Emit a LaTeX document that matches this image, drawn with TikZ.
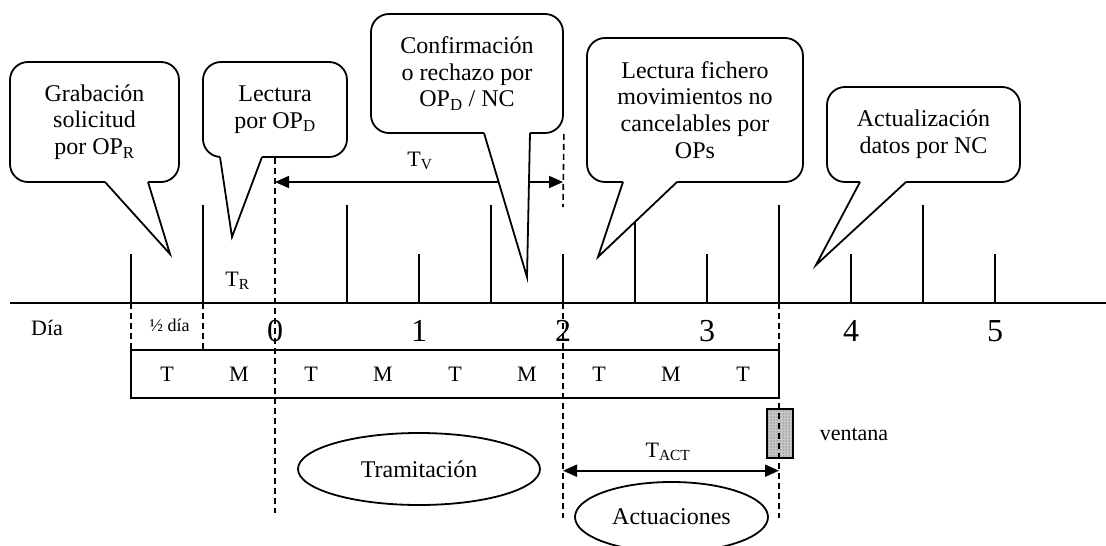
\documentclass[tikz,border=0pt]{standalone}
\usepackage{fontspec}
\setmainfont{Liberation Serif}
\usetikzlibrary{arrows.meta,patterns,shapes.geometric}
\begin{document}
\begin{tikzpicture}[x=1pt,y=-1pt,
  axisline/.style={line width=2pt},
  tickline/.style={line width=1.6pt},
  guide/.style={line width=1.6pt, dash pattern=on 6pt off 4pt},
  bubble/.style={draw, line width=1.8pt, fill=white, rounded corners=18pt, align=center, inner sep=0pt,
                 font=\fontsize{24}{26.7}\selectfont},
  ptr/.style={line width=1.8pt, line join=miter},
  dimline/.style={line width=1.8pt, {Triangle[length=14pt,width=12pt]}-{Triangle[length=14pt,width=12pt]}},
  daynum/.style={anchor=base, font=\fontsize{32}{34}\selectfont},
  half/.style={anchor=base, font=\fontsize{22}{24}\selectfont},
  lbl/.style={anchor=base, font=\fontsize{22}{24}\selectfont},
  phase/.style={draw, line width=1.8pt, ellipse, inner sep=0pt, font=\fontsize{24}{26}\selectfont},
]
\useasboundingbox (0,0) rectangle (1106,546);

% ---- axis
\coordinate (axL) at (10,303);
\coordinate (axR) at (1106,303);
\draw[axisline] (axL) -- (axR);

% ---- ticks (short)
\foreach \x in {131,419,563,707,851,995}
  \draw[tickline] (\x,254) -- (\x,303);
% ---- ticks (tall)
\foreach \x in {203,347,491,635,779,923}
  \draw[tickline] (\x,205) -- (\x,303);

% ---- labels on axis
\node[lbl] (dia) at (47,335.7) {Día};
\node[anchor=base, font=\fontsize{18}{20}\selectfont] (halfday) at (169.5,331.7) {½ día};
\node[daynum] (d0) at (275,341.5) {0};
\node[daynum] (d1) at (419,341.5) {1};
\node[daynum] (d2) at (563,341.5) {2};
\node[daynum] (d3) at (707,341.5) {3};
\node[daynum] (d4) at (851,341.5) {4};
\node[daynum] (d5) at (995,341.5) {5};

% ---- T/M row
\node[draw, line width=2pt, minimum width=648, minimum height=48, inner sep=0pt] (tmbox) at (455,374) {};
\foreach \x/\t [count=\i] in {167/T,239/M,311/T,383/M,455/T,527/M,599/T,671/M,743/T}
  \node[half] (tm\i) at (\x,381.7) {\t};

% ---- window
\node[draw, line width=1.8pt, minimum width=26, minimum height=49, inner sep=0pt,
      preaction={fill=gray!45}, pattern=dots, pattern color=black!75] (win) at (780,433.5) {};
\node[lbl] (vent) at (854,440) {ventana};

% ---- phase ellipses
\node[phase, minimum width=242, minimum height=72] (tram) at (419,469) {Tramitación};
\node[phase, minimum width=193, minimum height=70] (actu) at (671.5,517) {Actuaciones};

% ---- time labels
\node[anchor=base, font=\fontsize{22}{24}\selectfont] (tr) at (237.5,286.7) {T\textsubscript{R}};
\node[anchor=base, font=\fontsize{22}{24}\selectfont] (tv) at (420,166.5) {T\textsubscript{V}};
\node[anchor=base, font=\fontsize{22}{24}\selectfont] (tact) at (668,457) {T\textsubscript{ACT}};

% ---- dimension arrows
\coordinate (tvL) at (275,182);
\coordinate (tvR) at (563,182);
\coordinate (taL) at (563,470.7);
\coordinate (taR) at (779,470.7);
\draw[dimline] (tvL) -- (tvR);
\draw[dimline] (taL) -- (taR);

% ---- callouts
\node[bubble, minimum width=169, minimum height=120] (grab) at (94.5,122)
  {Grabación\\solicitud\\por OP\textsubscript{R}};
\fill[white] (105,180) -- (105,183) -- (170,254) -- (148,183) -- (148,180) -- cycle;
\draw[ptr] (105,182) -- (170,254) -- (148,182);

\node[bubble, minimum width=144, minimum height=95] (lecD) at (275,109.5)
  {Lectura\\por OP\textsubscript{D}};
\fill[white] (220,155) -- (220,158) -- (232,237) -- (262,158) -- (262,155) -- cycle;
\draw[ptr] (220,157) -- (232,237) -- (262,157);

\node[bubble, minimum width=192, minimum height=119] (conf) at (467,73.5)
  {Confirmación\\o rechazo por\\OP\textsubscript{D} / NC};
\fill[white] (484,131) -- (484,134) -- (527,277) -- (530,134) -- (530,131) -- cycle;
\draw[ptr] (484,133) -- (527,277) -- (530,133);

\node[bubble, minimum width=216, minimum height=144] (lecF) at (695,110)
  {Lectura fichero\\movimientos no\\cancelables por\\OPs};
\fill[white] (623,180) -- (623,183) -- (598,257) -- (677,183) -- (677,180) -- cycle;
\draw[ptr] (623,182) -- (598,257) -- (677,182);

\node[bubble, minimum width=193, minimum height=95] (actz) at (923.5,134.5)
  {Actualización\\datos por NC};
\fill[white] (860,180) -- (860,183) -- (816,265) -- (906,183) -- (906,180) -- cycle;
\draw[ptr] (860,182) -- (816,265) -- (906,182);

% ---- dashed guide lines
\coordinate (g131a) at (131,303);
\coordinate (g131b) at (131,350);
\coordinate (g203a) at (203,303);
\coordinate (g203b) at (203,350);
\coordinate (g275b) at (275,513);
\coordinate (g563a) at (563,207);
\coordinate (g563c) at (563,303);
\coordinate (g563d) at (563,518);
\coordinate (g779a) at (779,303);
\coordinate (g779b) at (779,518);
\draw[guide] (g131a) -- (g131b);
\draw[guide] (g203a) -- (g203b);
\draw[guide] (lecD.south) -- (g275b);
\draw[guide] (conf.south east) -- (g563a);
\draw[guide] (g563c) -- (g563d);
\draw[guide] (g779a) -- (g779b);
\end{tikzpicture}
\end{document}
